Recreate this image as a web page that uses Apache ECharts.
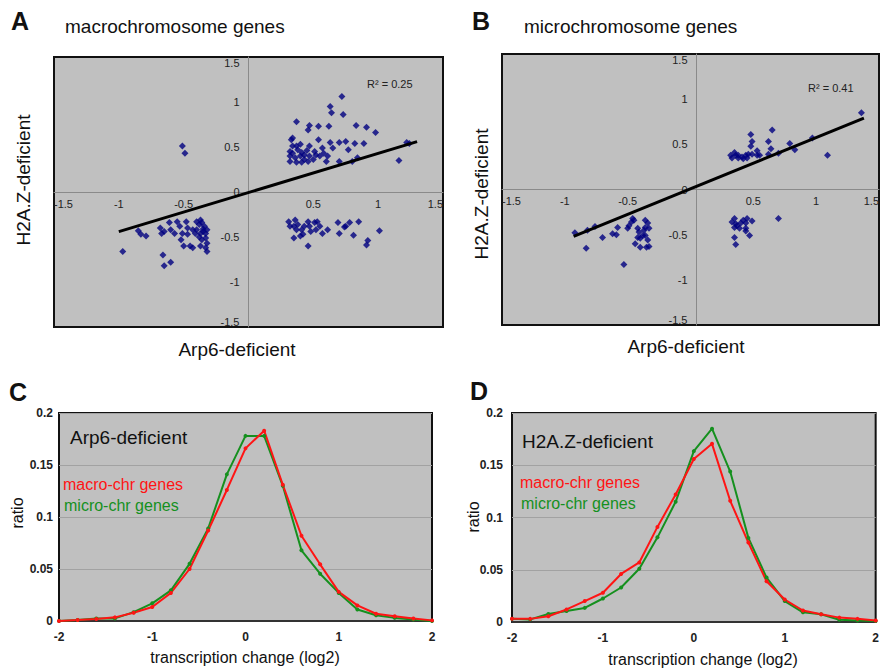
<!DOCTYPE html>
<html>
<head>
<meta charset="utf-8">
<title>Arp6 / H2A.Z</title>
<script src="https://cdn.jsdelivr.net/npm/echarts@6/dist/echarts.min.js"></script>
<style>
  html, body { margin: 0; padding: 0; background: #fff; }
  #main { width: 882px; height: 669px; }
</style>
</head>
<body>
<div id="main"></div>
<script>
// 散点数据: [Arp6-deficient, H2A.Z-deficient]
const macroScatter = [
  [0.72,1.06],[0.63,0.95],[0.64,0.88],[0.73,0.86],[0.37,0.78],[0.47,0.74],[0.54,0.73],[0.62,0.73],
  [0.83,0.74],[0.91,0.72],[0.46,0.69],[0.98,0.66],[0.34,0.60],[0.33,0.58],[0.54,0.58],[0.70,0.55],
  [0.75,0.56],[0.82,0.54],[0.89,0.54],[0.63,0.55],[0.47,0.51],[0.37,0.51],[0.40,0.53],[0.57,0.49],
  [0.65,0.49],[0.77,0.47],[1.22,0.55],[1.24,0.54],[1.16,0.35],[0.80,0.34],[0.84,0.38],[0.70,0.34],
  [0.60,0.34],[0.32,0.45],[0.34,0.43],[0.38,0.47],[0.41,0.44],[0.43,0.41],[0.32,0.40],[0.36,0.38],
  [0.40,0.40],[0.43,0.36],[0.32,0.34],[0.37,0.33],[0.41,0.33],[0.47,0.40],[0.50,0.36],[0.52,0.41],
  [0.55,0.40],[0.46,0.34],[0.51,0.45],[0.58,0.43],[0.61,0.40],[0.34,0.51],[0.45,0.46],
  [-0.51,0.51],[-0.49,0.43],
  [-0.97,-0.66],[-0.85,-0.43],[-0.83,-0.47],[-0.79,-0.49],[-0.68,-0.40],[-0.67,-0.46],[-0.65,-0.44],
  [-0.61,-0.34],[-0.60,-0.42],[-0.57,-0.46],[-0.55,-0.33],[-0.53,-0.38],[-0.51,-0.46],[-0.48,-0.33],
  [-0.47,-0.47],[-0.52,-0.53],[-0.50,-0.60],[-0.45,-0.60],[-0.43,-0.62],[-0.66,-0.70],[-0.65,-0.82],
  [-0.60,-0.78],[-0.40,-0.33],[-0.38,-0.36],[-0.36,-0.34],[-0.34,-0.38],[-0.40,-0.42],[-0.37,-0.46],
  [-0.35,-0.44],[-0.33,-0.46],[-0.38,-0.50],[-0.36,-0.53],[-0.33,-0.51],[-0.32,-0.57],[-0.37,-0.60],
  [-0.33,-0.62],[-0.32,-0.66],[-0.41,-0.46],[-0.43,-0.42],[-0.47,-0.40],[-0.37,-0.31],[-0.32,-0.42],
  [-0.35,-0.41],
  [0.31,-0.33],[0.36,-0.31],[0.35,-0.38],[0.32,-0.38],[0.37,-0.42],[0.38,-0.36],[0.35,-0.51],[0.40,-0.49],
  [0.41,-0.42],[0.43,-0.38],[0.46,-0.33],[0.47,-0.38],[0.48,-0.44],[0.51,-0.34],[0.53,-0.33],[0.55,-0.38],
  [0.52,-0.42],[0.46,-0.60],[0.57,-0.46],[0.61,-0.42],[0.69,-0.34],[0.70,-0.46],[0.74,-0.39],[0.75,-0.38],
  [0.78,-0.34],[0.81,-0.48],[0.85,-0.33],[0.91,-0.59],[0.92,-0.54],[1.01,-0.43],[0.42,-0.47]
];
const microScatter = [
  [1.36,0.85],[1.09,0.38],[0.97,0.57],[0.79,0.51],[0.83,0.44],[0.70,0.40],[0.65,0.66],[0.62,0.53],
  [0.64,0.45],[0.62,0.39],[0.48,0.61],[0.49,0.53],[0.48,0.48],[0.53,0.43],[0.55,0.38],[0.53,0.38],
  [0.32,0.38],[0.33,0.35],[0.36,0.38],[0.38,0.38],[0.41,0.36],[0.44,0.38],[0.46,0.39],[0.42,0.34],
  [0.45,0.35],[0.35,0.41],[0.49,0.39],[0.38,0.35],
  [-0.92,-0.48],[-0.83,-0.65],[-0.76,-0.41],[-0.82,-0.45],[-0.70,-0.53],[-0.62,-0.49],[-0.59,-0.50],
  [-0.58,-0.42],[-0.53,-0.83],[-0.50,-0.43],[-0.49,-0.40],[-0.46,-0.32],[-0.45,-0.34],[-0.47,-0.36],
  [-0.44,-0.60],[-0.42,-0.43],[-0.41,-0.47],[-0.42,-0.53],[-0.40,-0.54],[-0.38,-0.51],[-0.40,-0.64],
  [-0.36,-0.34],[-0.34,-0.37],[-0.36,-0.42],[-0.33,-0.43],[-0.36,-0.51],[-0.34,-0.56],[-0.35,-0.64],
  [-0.33,-0.63],[-0.37,-0.45],
  [0.70,-0.32],[0.35,-0.32],[0.33,-0.36],[0.36,-0.38],[0.35,-0.42],[0.37,-0.40],[0.40,-0.37],[0.42,-0.34],
  [0.44,-0.37],[0.45,-0.32],[0.49,-0.35],[0.44,-0.43],[0.44,-0.46],[0.47,-0.51],[0.35,-0.53],[0.36,-0.61],
  [0.39,-0.43]
];
// 趋势线端点
const macroTrend = [[-1.0,-0.44],[1.3,0.56]];
const microTrend = [[-0.93,-0.52],[1.38,0.79]];
const macroR2 = 'R² = 0.25';
const microR2 = 'R² = 0.41';

// 分布曲线 (log2 变化, 比例)
const xSteps = [-2,-1.8,-1.6,-1.4,-1.2,-1,-0.8,-0.6,-0.4,-0.2,0,0.2,0.4,0.6,0.8,1,1.2,1.4,1.6,1.8,2];
const arpMacro = [0,0.001,0.002,0.0035,0.008,0.0135,0.027,0.05,0.087,0.126,0.166,0.183,0.131,0.082,0.0545,0.028,0.015,0.007,0.0045,0.0025,0.0006];
const arpMicro = [0,0.001,0.0025,0.0025,0.0085,0.017,0.0295,0.055,0.089,0.141,0.178,0.178,0.13,0.068,0.0455,0.027,0.011,0.0055,0.003,0.0015,0];
const h2azMacro = [0.0032,0.003,0.0055,0.012,0.02,0.028,0.046,0.057,0.091,0.122,0.156,0.1705,0.116,0.076,0.039,0.0215,0.011,0.0075,0.0042,0.003,0.0015];
const h2azMicro = [0.003,0.0025,0.0077,0.0105,0.0135,0.0225,0.033,0.051,0.081,0.115,0.1635,0.185,0.144,0.0805,0.0425,0.02,0.0093,0.0074,0.0022,0.0015,0.001];

const FONT = '"Liberation Sans", Arial, sans-serif';
const redColor = '#ff1414';
const greenColor = '#15901e';

// 四个面板的绘图区
const gridA = { left: 54, top: 57, width: 389, height: 270 };
const gridB = { left: 502, top: 54, width: 389, height: 271 };
const gridC = { left: 59, top: 413, width: 373, height: 208 };
const gridD = { left: 512, top: 413, width: 372, height: 209 };

function zip(xs, ys) {
  return xs.map(function (x, i) { return [x, ys[i]]; });
}

// 文字
function txt(x, y, text, size, opt) {
  opt = opt || {};
  return {
    type: 'text',
    x: x, y: y,
    rotation: opt.rotation || 0,
    z: 100,
    style: {
      text: text,
      fontSize: size,
      fontFamily: FONT,
      fontWeight: opt.bold ? 'bold' : 'normal',
      fill: opt.color || '#111',
      align: opt.align || 'left',
      verticalAlign: 'middle'
    }
  };
}

function gridBox(g) {
  return {
    left: g.left, top: g.top, width: g.width, height: g.height,
    show: true,
    backgroundColor: '#c0c0c0',
    borderColor: '#111',
    borderWidth: 2,
    containLabel: false
  };
}

// 散点图坐标轴 (轴线穿过原点, 范围对称所以偏移半个绘图区)
function scatterX(idx, g) {
  return {
    type: 'value', gridIndex: idx, min: -1.5, max: 1.5, interval: 0.5,
    position: 'bottom', offset: -g.height / 2,
    axisLine: { onZero: false, lineStyle: { color: '#8a8a8a', width: 1 } },
    axisTick: { show: false },
    splitLine: { show: false },
    axisLabel: {
      fontSize: 11, fontFamily: FONT, color: '#222', margin: 6,
      alignMinLabel: 'left', alignMaxLabel: 'right',
      formatter: function (v) { return v === 0 ? '' : String(v); }
    }
  };
}
function scatterY(idx, g) {
  return {
    type: 'value', gridIndex: idx, min: -1.5, max: 1.5, interval: 0.5,
    position: 'left', offset: -g.width / 2,
    axisLine: { onZero: false, lineStyle: { color: '#8a8a8a', width: 1 } },
    axisTick: { show: false },
    splitLine: { show: false },
    axisLabel: {
      fontSize: 11, fontFamily: FONT, color: '#222', margin: 9,
      verticalAlignMinLabel: 'bottom', verticalAlignMaxLabel: 'top'
    }
  };
}
// 分布图坐标轴
function distX(idx) {
  return {
    type: 'value', gridIndex: idx, min: -2, max: 2, interval: 1,
    axisLine: { onZero: false, lineStyle: { color: '#333', width: 2 } },
    axisTick: { show: false },
    splitLine: { show: false },
    axisLabel: { fontSize: 12, fontFamily: FONT, color: '#222', margin: 10, fontWeight: 'bold' }
  };
}
function distY(idx, margin) {
  return {
    type: 'value', gridIndex: idx, min: 0, max: 0.2, interval: 0.05,
    axisLine: { show: false },
    axisTick: { show: false },
    splitLine: { show: true, lineStyle: { color: '#a2a2a2', width: 1 } },
    axisLabel: { fontSize: 12, fontFamily: FONT, color: '#222', margin: margin, fontWeight: 'bold' }
  };
}

function scatterSeries(idx, data) {
  return {
    type: 'scatter', xAxisIndex: idx, yAxisIndex: idx,
    symbol: 'diamond', symbolSize: 7,
    itemStyle: { color: '#00007f' },
    data: data, z: 3
  };
}
function trendSeries(idx, data) {
  return {
    type: 'line', xAxisIndex: idx, yAxisIndex: idx,
    symbol: 'none', silent: true,
    lineStyle: { color: '#000', width: 3 },
    data: data, z: 4
  };
}
function distSeries(idx, ys, color) {
  return {
    type: 'line', xAxisIndex: idx, yAxisIndex: idx,
    symbol: 'circle', symbolSize: 4, showSymbol: true,
    lineStyle: { color: color, width: 2 },
    itemStyle: { color: color },
    data: zip(xSteps, ys)
  };
}

let myChart = echarts.init(document.getElementById('main'), null, { renderer: 'svg' });

let option = {
  backgroundColor: '#fff',
  animation: false,
  grid: [gridBox(gridA), gridBox(gridB), gridBox(gridC), gridBox(gridD)],
  xAxis: [scatterX(0, gridA), scatterX(1, gridB), distX(2), distX(3)],
  yAxis: [scatterY(0, gridA), scatterY(1, gridB), distY(2, 6), distY(3, 9)],
  series: [
    scatterSeries(0, macroScatter),
    trendSeries(0, macroTrend),
    scatterSeries(1, microScatter),
    trendSeries(1, microTrend),
    distSeries(2, arpMicro, greenColor),
    distSeries(2, arpMacro, redColor),
    distSeries(3, h2azMicro, greenColor),
    distSeries(3, h2azMacro, redColor)
  ],
  graphic: [
    // A
    txt(11, 21, 'A', 25, { bold: true }),
    txt(65, 26, 'macrochromosome genes', 19),
    txt(23, 180, 'H2A.Z-deficient', 19, { rotation: Math.PI / 2, align: 'center' }),
    txt(237, 349, 'Arp6-deficient', 19, { align: 'center' }),
    txt(367, 84, macroR2, 11, { color: '#222' }),
    // B
    txt(472, 21, 'B', 25, { bold: true }),
    txt(524, 26, 'microchromosome genes', 19),
    txt(481, 194, 'H2A.Z-deficient', 19, { rotation: Math.PI / 2, align: 'center' }),
    txt(686, 346, 'Arp6-deficient', 19, { align: 'center' }),
    txt(808, 88, microR2, 11, { color: '#222' }),
    // C
    txt(9, 392, 'C', 25, { bold: true }),
    txt(70, 437, 'Arp6-deficient', 19),
    txt(63, 484, 'macro-chr genes', 16, { color: redColor }),
    txt(64, 505, 'micro-chr genes', 16, { color: greenColor }),
    txt(17, 513, 'ratio', 16, { rotation: Math.PI / 2, align: 'center' }),
    txt(245, 657, 'transcription change (log2)', 16, { align: 'center' }),
    // D
    txt(470, 391, 'D', 25, { bold: true }),
    txt(522, 441, 'H2A.Z-deficient', 19),
    txt(520, 482, 'macro-chr genes', 16, { color: redColor }),
    txt(521, 503, 'micro-chr genes', 16, { color: greenColor }),
    txt(473, 517, 'ratio', 16, { rotation: Math.PI / 2, align: 'center' }),
    txt(703, 659, 'transcription change (log2)', 16, { align: 'center' })
  ]
};

myChart.setOption(option);
</script>
</body>
</html>
